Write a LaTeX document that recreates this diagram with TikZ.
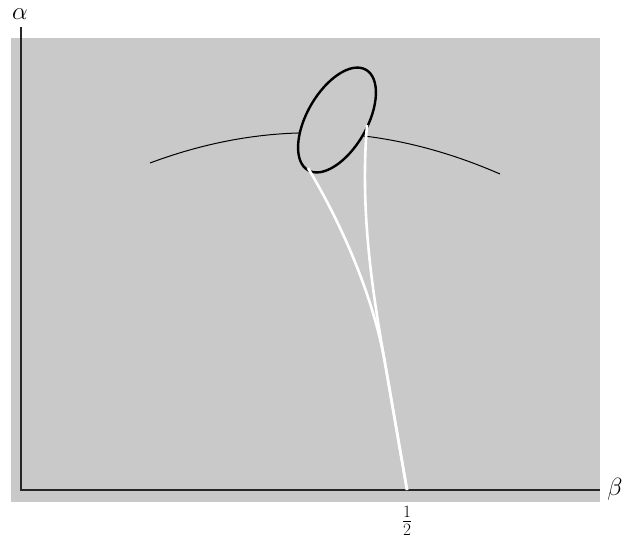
\documentclass[tikz,border=0pt]{standalone}
\usepackage{tikz}
\usetikzlibrary{positioning}
\definecolor{panelgray}{gray}{0.79}
\tikzset{
  panel/.style={
    fill=panelgray,
    draw=none
  },
  axisline/.style={
    draw=black!85,
    line width=1.1pt
  },
  thincurve/.style={
    draw=black,
    line width=1pt
  },
  loopcurve/.style={
    draw=black,
    line width=2.4pt,
    fill=panelgray
  },
  whitecurve/.style={
    draw=white,
    line width=2.6pt
  },
  axislabel/.style={
    inner sep=0pt,
    font=\fontsize{24}{29}\selectfont
  }
}

\begin{document}
\begin{tikzpicture}[x=1pt,y=-1pt]
  \useasboundingbox (0,0) rectangle (630,539);
  \fill[panel] (11,38) rectangle (600,502);

  % axes
  \coordinate (origin) at (21,490);
  \coordinate (ytop) at (21,27);
  \coordinate (xend) at (600,490);
  \draw[axisline] (ytop) -- (origin) -- (xend);
  \node[axislabel] (alpha) at (20,14) {$\alpha$};
  \node[axislabel] (beta) at (615,489) {$\beta$};
  \node[axislabel] (half) at (407,521) {$\frac{1}{2}$};

  % thin arc, hidden inside the loop
  \draw[thincurve] (150,163) .. controls (266.7,119.3) and (383.3,123) .. (500,174);

  % loop
  \draw[loopcurve, shift={(337,120)}, rotate=60] (0,0) ellipse [x radius=58, y radius=30];

  % white branches down to beta = 1/2
  \coordinate (leftfoot) at (308,168);
  \coordinate (rightfoot) at (367,125);
  \coordinate (meet) at (385,363);
  \coordinate (cusp) at (407,490);
  \draw[whitecurve] (leftfoot) .. controls (338,218) and (372,290) .. (meet) -- (cusp);
  \draw[whitecurve] (rightfoot) .. controls (360,210) and (372,290) .. (meet) -- (cusp);
\end{tikzpicture}
\end{document}
